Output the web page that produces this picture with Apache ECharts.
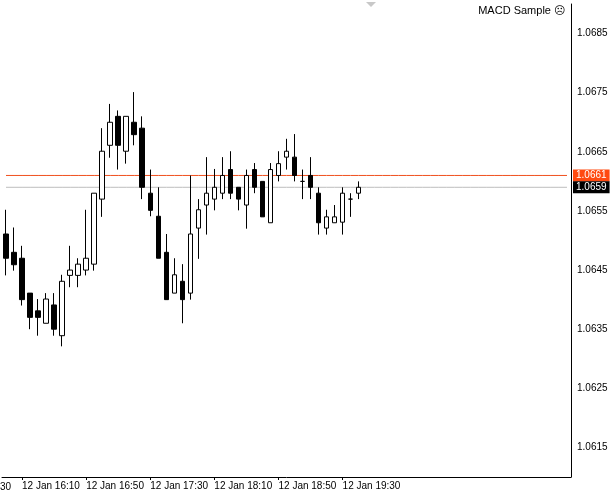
<!DOCTYPE html>
<html><head><meta charset="utf-8">
<script src="https://cdn.jsdelivr.net/npm/echarts@6/dist/echarts.min.js"></script>
<style>html,body{margin:0;padding:0;background:#fff}#c{width:613px;height:495px}</style>
</head><body><div id="c"></div>
<script>
const times = ['16:00','16:05','16:10','16:15','16:20','16:25','16:30','16:35','16:40','16:45','16:50','16:55','17:00','17:05','17:10','17:15','17:20','17:25','17:30','17:35','17:40','17:45','17:50','17:55','18:00','18:05','18:10','18:15','18:20','18:25','18:30','18:35','18:40','18:45','18:50','18:55','19:00','19:05','19:10','19:15','19:20','19:25','19:30','19:35','19:40'];
const opens  = [1.06511,1.06480,1.06470,1.06411,1.06381,1.06360,1.06391,1.06339,1.06441,1.06441,1.06450,1.06460,1.06570,1.06661,1.06710,1.06651,1.06700,1.06690,1.06580,1.06541,1.06480,1.06411,1.06431,1.06411,1.06521,1.06560,1.06570,1.06580,1.06620,1.06590,1.06560,1.06620,1.06600,1.06530,1.06610,1.06641,1.06641,1.06600,1.06610,1.06580,1.06521,1.06530,1.06531,1.06570,1.06580];
const closes = [1.06470,1.06459,1.06400,1.06370,1.06370,1.06401,1.06350,1.06431,1.06450,1.06460,1.06470,1.06580,1.06651,1.06700,1.06661,1.06710,1.06679,1.06590,1.06551,1.06470,1.06400,1.06442,1.06400,1.06511,1.06552,1.06580,1.06590,1.06610,1.06580,1.06570,1.06610,1.06590,1.06540,1.06620,1.06630,1.06651,1.06610,1.06600,1.06590,1.06530,1.06540,1.06540,1.06580,1.06570,1.06590];
const lows   = [1.06441,1.06449,1.06390,1.06350,1.06339,1.06360,1.06339,1.06321,1.06421,1.06421,1.06441,1.06449,1.06540,1.06640,1.06620,1.06630,1.06661,1.06570,1.06541,1.06470,1.06400,1.06411,1.06360,1.06400,1.06469,1.06510,1.06551,1.06570,1.06570,1.06551,1.06520,1.06580,1.06540,1.06530,1.06600,1.06620,1.06600,1.06570,1.06570,1.06510,1.06510,1.06530,1.06510,1.06540,1.06570];
const highs  = [1.06552,1.06522,1.06491,1.06411,1.06401,1.06411,1.06411,1.06442,1.06491,1.06470,1.06552,1.06580,1.06690,1.06731,1.06720,1.06710,1.06751,1.06710,1.06620,1.06590,1.06511,1.06470,1.06460,1.06610,1.06570,1.06641,1.06621,1.06641,1.06651,1.06590,1.06620,1.06631,1.06600,1.06631,1.06651,1.06672,1.06680,1.06620,1.06641,1.06590,1.06552,1.06560,1.06590,1.06580,1.06600];
const askPrice = 1.0661, bidPrice = 1.0659;
const yTickLabels = ['1.0615','1.0625','1.0635','1.0645','1.0655','1.0665','1.0675','1.0685'];
const TOTAL = 71;
const cats = [];
for (let i = 0; i < TOTAL; i++) cats.push(i < times.length ? '12 Jan ' + times[i] : '');
const data = times.map((t, i) => [opens[i], closes[i], lows[i], highs[i]]);
const askLine = cats.map(() => askPrice);
const bidLine = cats.map(() => bidPrice);
const font = 'Liberation Sans';
const showX = (i) => i < times.length && (i - 2) % 8 === 0;
const priceLine = (name, vals, color, bg) => ({
  type: 'line', name, data: vals, silent: true, symbol: 'none', z: 1,
  lineStyle: {color, width: 1},
  endLabel: {show: true, formatter: () => vals[0].toFixed(4), color: '#fff', backgroundColor: bg,
    fontFamily: font, fontSize: 10, padding: [1, 3], distance: 6}
});
const chart = echarts.init(document.getElementById('c'));
chart.setOption({
  animation: false,
  backgroundColor: '#fff',
  grid: {left: 2, right: 42, top: 4, bottom: 18},
  xAxis: {
    type: 'category', data: cats, boundaryGap: true,
    axisLine: {lineStyle: {color: '#000'}},
    axisTick: {show: true, alignWithLabel: true, length: 3, lineStyle: {color: '#000'}, interval: showX},
    axisLabel: {interval: showX, align: 'left', margin: 4, color: '#000', fontFamily: font, fontSize: 10},
    splitLine: {show: false}
  },
  yAxis: {
    type: 'value', position: 'right', min: 1.0610, max: 1.0690, interval: 0.0005,
    axisLine: {show: true, lineStyle: {color: '#000'}},
    axisTick: {show: false},
    splitLine: {show: false},
    axisLabel: {margin: 6, color: '#000', fontFamily: font, fontSize: 10,
      formatter: (v) => { const s = v.toFixed(4); return yTickLabels.includes(s) ? s : ''; }}
  },
  series: [
    priceLine('ask', askLine, '#f0501e', '#ff4a10'),
    priceLine('bid', bidLine, '#bdbdbd', '#000'),
    {
      type: 'candlestick', data: data, barWidth: 5, z: 3,
      itemStyle: {color: '#fff', color0: '#000', borderColor: '#000', borderColor0: '#000', borderWidth: 1}
    }
  ],
  graphic: [
    {type: 'text', right: 48, top: 5, style: {text: 'MACD Sample ☹', fill: '#000', font: '11px Liberation Sans'}},
    {type: 'text', left: 0, bottom: 3, style: {text: '30', fill: '#000', font: '10px Liberation Sans'}},
    {type: 'polygon', shape: {points: [[366, 2], [376, 2], [371, 7]]}, style: {fill: '#c8c8c8'}}
  ]
});
</script></body></html>
